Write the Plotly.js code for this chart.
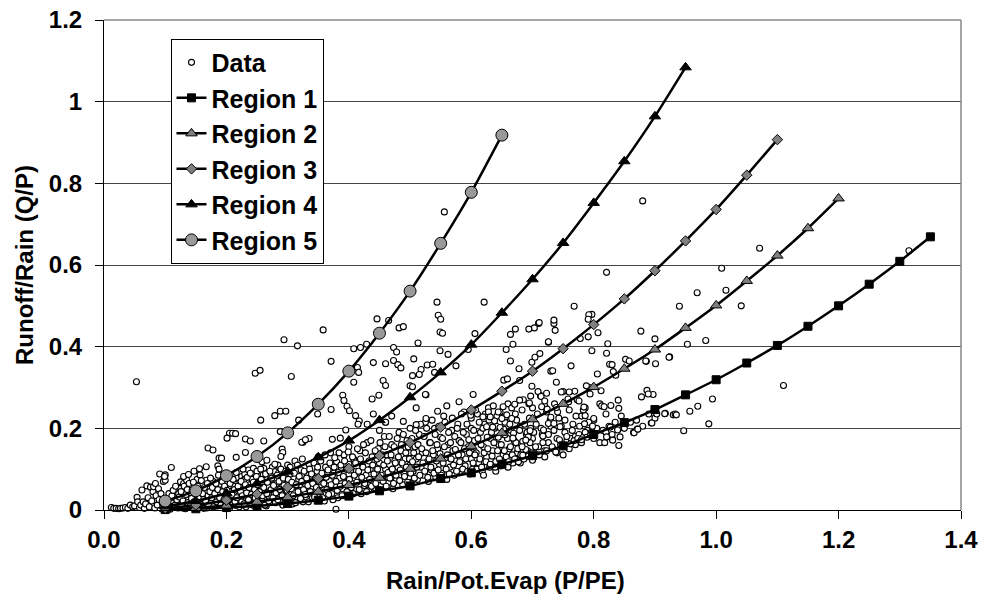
<!DOCTYPE html>
<html>
<head>
<meta charset="utf-8">
<script src="https://cdn.plot.ly/plotly-3.0.1.min.js"></script>
<style>html,body{margin:0;padding:0;background:#fff;}#chart{width:981px;height:606px;}</style>
</head>
<body>
<div id="chart"></div>
<script>
// Region curves (x = P/PE, y = Q/P)
const r1X = [0.1,0.15,0.2,0.25,0.3,0.35,0.4,0.45,0.5,0.55,0.6,0.65,0.7,0.75,0.8,0.85,0.9,0.95,1.0,1.05,1.1,1.15,1.2,1.25,1.3,1.35];
const r1Y = [0.001,0.003,0.006,0.010,0.016,0.024,0.034,0.047,0.059,0.077,0.091,0.112,0.133,0.157,0.185,0.214,0.246,0.282,0.319,0.360,0.403,0.450,0.500,0.553,0.609,0.669];
const r2X = [0.1,0.15,0.2,0.25,0.3,0.35,0.4,0.45,0.5,0.55,0.6,0.65,0.7,0.75,0.8,0.85,0.9,0.95,1.0,1.05,1.1,1.15,1.2];
const r2Y = [0.002,0.005,0.011,0.020,0.031,0.045,0.061,0.079,0.101,0.126,0.156,0.189,0.222,0.260,0.301,0.346,0.393,0.446,0.501,0.561,0.623,0.690,0.763];
const r3X = [0.1,0.15,0.2,0.25,0.3,0.35,0.4,0.45,0.5,0.55,0.6,0.65,0.7,0.75,0.8,0.85,0.9,0.95,1.0,1.05,1.1];
const r3Y = [0.004,0.012,0.024,0.039,0.056,0.077,0.102,0.133,0.165,0.203,0.245,0.291,0.340,0.395,0.454,0.517,0.586,0.659,0.736,0.820,0.907];
const r4X = [0.1,0.15,0.2,0.25,0.3,0.35,0.4,0.45,0.5,0.55,0.6,0.65,0.7,0.75,0.8,0.85,0.9,0.95];
const r4Y = [0.009,0.022,0.041,0.065,0.094,0.129,0.170,0.220,0.276,0.337,0.405,0.483,0.565,0.654,0.752,0.854,0.964,1.084];
const r5X = [0.1,0.15,0.2,0.25,0.3,0.35,0.4,0.45,0.5,0.55,0.6,0.65];
const r5Y = [0.022,0.047,0.084,0.131,0.189,0.259,0.340,0.433,0.536,0.653,0.778,0.918];

const dataNearZero = [[0.012,0.006],[0.016,0.004],[0.02,0.004],[0.024,0.003],[0.027,0.004],[0.031,0.005],[0.035,0.006],[0.039,0.004],[0.043,0.012],[0.047,0.008],[0.05,0.01],[0.054,0.031],[0.055,0.02],[0.058,0.006],[0.06,0.012],[0.062,0.049],[0.064,0.02],[0.066,0.004],[0.068,0.015],[0.07,0.059],[0.072,0.03],[0.074,0.008],[0.076,0.056],[0.078,0.022],[0.08,0.045],[0.081,0.057],[0.083,0.005],[0.084,0.065],[0.085,0.035],[0.087,0.012],[0.089,0.052],[0.09,0.025],[0.091,0.088],[0.093,0.04],[0.095,0.018],[0.097,0.07],[0.099,0.082],[0.1,0.073],[0.1,0.086],[0.1,0.006],[0.379,0.002]];
const dataBandA = [[0.105,0.004],[0.11,0.012],[0.112,0.022],[0.115,0.03],[0.118,0.008],[0.12,0.018],[0.122,0.04],[0.125,0.026],[0.125,0.053],[0.125,0.069],[0.128,0.005],[0.13,0.034],[0.13,0.065],[0.132,0.048],[0.135,0.015],[0.135,0.073],[0.138,0.025],[0.14,0.042],[0.142,0.058],[0.145,0.008],[0.148,0.03],[0.15,0.02],[0.152,0.048],[0.152,0.075],[0.155,0.038],[0.157,0.086],[0.158,0.012],[0.16,0.062],[0.162,0.026],[0.165,0.045],[0.167,0.073],[0.168,0.005],[0.17,0.035],[0.172,0.055],[0.175,0.018],[0.178,0.07],[0.18,0.028],[0.182,0.045],[0.185,0.01],[0.186,0.108],[0.188,0.06],[0.188,0.1],[0.19,0.038],[0.192,0.022],[0.195,0.052],[0.198,0.075],[0.2,0.015],[0.2,0.033],[0.2,0.065]];
const dataBandB = [[0.205,0.005],[0.207,0.045],[0.21,0.025],[0.212,0.058],[0.215,0.012],[0.218,0.078],[0.22,0.035],[0.222,0.068],[0.225,0.02],[0.225,0.082],[0.228,0.05],[0.228,0.073],[0.23,0.088],[0.232,0.008],[0.235,0.04],[0.236,0.098],[0.238,0.062],[0.24,0.028],[0.242,0.075],[0.244,0.102],[0.245,0.015],[0.248,0.05],[0.25,0.095],[0.252,0.035],[0.255,0.065],[0.258,0.022],[0.258,0.118],[0.26,0.085],[0.261,0.102],[0.262,0.045],[0.265,0.01],[0.266,0.122],[0.268,0.058],[0.27,0.03],[0.272,0.075],[0.275,0.105],[0.278,0.042],[0.279,0.094],[0.28,0.018],[0.282,0.065],[0.284,0.11],[0.285,0.09],[0.288,0.035],[0.29,0.055],[0.292,0.012],[0.295,0.08],[0.298,0.045],[0.3,0.025],[0.3,0.068],[0.3,0.11]];
const dataBandC = [[0.302,0.04],[0.305,0.088],[0.308,0.015],[0.31,0.058],[0.312,0.12],[0.315,0.032],[0.318,0.075],[0.32,0.048],[0.322,0.098],[0.325,0.02],[0.328,0.065],[0.33,0.038],[0.332,0.085],[0.335,0.112],[0.338,0.055],[0.34,0.028],[0.342,0.072],[0.345,0.045],[0.348,0.095],[0.35,0.13],[0.352,0.035],[0.355,0.062],[0.358,0.082],[0.36,0.022],[0.362,0.105],[0.365,0.05],[0.368,0.072],[0.37,0.14],[0.372,0.04],[0.375,0.09],[0.378,0.06],[0.38,0.118],[0.382,0.03],[0.385,0.078],[0.388,0.1],[0.39,0.052],[0.392,0.135],[0.395,0.068],[0.398,0.042],[0.4,0.088],[0.4,0.112],[0.4,0.155]];
const dataBandD = [[0.402,0.035],[0.405,0.065],[0.408,0.125],[0.41,0.05],[0.412,0.095],[0.415,0.078],[0.418,0.145],[0.42,0.04],[0.422,0.11],[0.425,0.06],[0.428,0.085],[0.43,0.165],[0.43,0.21],[0.432,0.048],[0.435,0.1],[0.438,0.13],[0.44,0.07],[0.44,0.235],[0.442,0.055],[0.445,0.09],[0.448,0.15],[0.45,0.115],[0.45,0.195],[0.452,0.06],[0.455,0.078],[0.458,0.18],[0.46,0.1],[0.46,0.215],[0.462,0.135],[0.465,0.068],[0.468,0.088],[0.47,0.16],[0.47,0.23],[0.472,0.052],[0.475,0.12],[0.478,0.075],[0.48,0.105],[0.482,0.19],[0.485,0.145],[0.488,0.062],[0.489,0.217],[0.49,0.09],[0.492,0.125],[0.495,0.17],[0.498,0.08],[0.5,0.11],[0.5,0.2],[0.5,0.14]];
const dataBandE = [[0.502,0.065],[0.505,0.095],[0.508,0.155],[0.51,0.125],[0.51,0.25],[0.512,0.075],[0.515,0.185],[0.518,0.105],[0.52,0.14],[0.522,0.085],[0.525,0.215],[0.528,0.118],[0.53,0.07],[0.532,0.165],[0.535,0.098],[0.538,0.135],[0.54,0.2],[0.542,0.08],[0.545,0.15],[0.548,0.112],[0.55,0.178],[0.552,0.09],[0.555,0.23],[0.558,0.128],[0.56,0.075],[0.56,0.255],[0.562,0.16],[0.565,0.105],[0.568,0.195],[0.57,0.145],[0.572,0.085],[0.575,0.12],[0.578,0.21],[0.58,0.17],[0.58,0.265],[0.582,0.095],[0.585,0.135],[0.588,0.24],[0.59,0.108],[0.592,0.185],[0.595,0.155],[0.598,0.088],[0.6,0.125],[0.6,0.2],[0.6,0.225]];
const dataBandF = [[0.602,0.1],[0.605,0.17],[0.608,0.14],[0.61,0.235],[0.612,0.115],[0.615,0.19],[0.618,0.095],[0.62,0.155],[0.62,0.085],[0.622,0.21],[0.625,0.13],[0.628,0.25],[0.63,0.105],[0.632,0.175],[0.635,0.145],[0.638,0.2],[0.64,0.118],[0.64,0.095],[0.642,0.23],[0.645,0.16],[0.648,0.108],[0.65,0.185],[0.652,0.135],[0.655,0.215],[0.658,0.12],[0.66,0.26],[0.66,0.105],[0.662,0.15],[0.665,0.195],[0.668,0.115],[0.67,0.17],[0.672,0.235],[0.675,0.14],[0.678,0.125],[0.68,0.205],[0.68,0.115],[0.682,0.16],[0.685,0.27],[0.688,0.13],[0.69,0.185],[0.692,0.145],[0.695,0.225],[0.698,0.135],[0.7,0.175],[0.7,0.25],[0.7,0.122]];
const dataBandG = [[0.703,0.14],[0.706,0.21],[0.71,0.155],[0.713,0.28],[0.716,0.185],[0.72,0.145],[0.72,0.13],[0.723,0.24],[0.726,0.165],[0.73,0.205],[0.733,0.15],[0.736,0.26],[0.74,0.175],[0.74,0.14],[0.743,0.225],[0.746,0.16],[0.75,0.29],[0.75,0.135],[0.753,0.19],[0.756,0.168],[0.76,0.245],[0.76,0.15],[0.763,0.175],[0.766,0.21],[0.77,0.18],[0.77,0.16],[0.773,0.27],[0.776,0.185],[0.78,0.23],[0.78,0.165],[0.783,0.178],[0.786,0.25],[0.79,0.195],[0.79,0.18],[0.793,0.3],[0.796,0.19],[0.8,0.22],[0.8,0.175]];
const dataBandH = [[0.805,0.2],[0.81,0.26],[0.81,0.165],[0.815,0.195],[0.82,0.235],[0.82,0.19],[0.825,0.205],[0.83,0.175],[0.83,0.185],[0.835,0.215],[0.84,0.198],[0.84,0.2],[0.845,0.23],[0.85,0.2],[0.86,0.215],[0.865,0.19],[0.87,0.22],[0.88,0.205],[0.89,0.235],[0.9,0.225]];
const dataDense1 = [[0.101,0.028],[0.103,0.015],[0.106,0.040],[0.108,0.002],[0.111,0.035],[0.113,0.048],[0.116,0.012],[0.117,0.058],[0.119,0.025],[0.121,0.005],[0.123,0.032],[0.126,0.045],[0.127,0.012],[0.129,0.022],[0.131,0.058],[0.133,0.003],[0.134,0.038],[0.136,0.05],[0.137,0.018],[0.139,0.065],[0.141,0.01],[0.143,0.028],[0.144,0.048],[0.146,0.068],[0.147,0.02],[0.149,0.04],[0.151,0.006],[0.153,0.058],[0.154,0.03],[0.156,0.015],[0.157,0.045],[0.159,0.072],[0.161,0.04],[0.163,0.004],[0.164,0.055],[0.166,0.022],[0.169,0.065],[0.171,0.012],[0.173,0.045],[0.174,0.078],[0.176,0.03],[0.177,0.055],[0.179,0.008],[0.181,0.04],[0.183,0.065],[0.184,0.02],[0.186,0.05],[0.187,0.085],[0.189,0.03],[0.191,0.012],[0.193,0.07],[0.194,0.045],[0.196,0.025],[0.197,0.058],[0.199,0.004]];
const dataDense2 = [[0.201,0.048],[0.203,0.085],[0.204,0.025],[0.206,0.065],[0.208,0.012],[0.209,0.038],[0.211,0.075],[0.213,0.05],[0.214,0.02],[0.216,0.092],[0.217,0.03],[0.219,0.058],[0.221,0.008],[0.223,0.045],[0.224,0.07],[0.226,0.035],[0.227,0.1],[0.229,0.015],[0.231,0.062],[0.233,0.042],[0.234,0.08],[0.236,0.025],[0.237,0.055],[0.239,0.09],[0.241,0.038],[0.243,0.012],[0.244,0.068],[0.246,0.05],[0.247,0.03],[0.249,0.082],[0.251,0.062],[0.253,0.018],[0.254,0.045],[0.256,0.1],[0.257,0.075],[0.259,0.035],[0.261,0.055],[0.263,0.012],[0.264,0.088],[0.266,0.04],[0.267,0.068],[0.269,0.022],[0.271,0.095],[0.273,0.05],[0.274,0.078],[0.276,0.03],[0.277,0.06],[0.279,0.112],[0.281,0.042],[0.283,0.085],[0.284,0.025],[0.286,0.07],[0.287,0.05],[0.289,0.1],[0.291,0.035],[0.293,0.078],[0.294,0.06],[0.296,0.02],[0.297,0.095],[0.299,0.048]];
const dataDense3 = [[0.301,0.075],[0.303,0.028],[0.304,0.105],[0.306,0.052],[0.307,0.068],[0.309,0.035],[0.311,0.09],[0.313,0.018],[0.314,0.062],[0.316,0.11],[0.317,0.045],[0.319,0.082],[0.321,0.028],[0.323,0.07],[0.324,0.125],[0.326,0.05],[0.327,0.095],[0.329,0.038],[0.331,0.078],[0.333,0.06],[0.334,0.02],[0.336,0.1],[0.337,0.045],[0.339,0.088],[0.341,0.065],[0.343,0.115],[0.344,0.032],[0.346,0.078],[0.347,0.055],[0.349,0.105],[0.351,0.07],[0.353,0.045],[0.354,0.12],[0.356,0.09],[0.357,0.03],[0.359,0.065],[0.361,0.135],[0.363,0.08],[0.364,0.05],[0.366,0.098],[0.367,0.038],[0.369,0.115],[0.371,0.062],[0.373,0.085],[0.374,0.025],[0.376,0.105],[0.377,0.128],[0.379,0.07],[0.381,0.048],[0.383,0.092],[0.384,0.14],[0.386,0.058],[0.387,0.11],[0.389,0.035],[0.391,0.082],[0.393,0.12],[0.394,0.065],[0.396,0.1],[0.397,0.045],[0.399,0.142]];
const dataDense4 = [[0.401,0.075],[0.403,0.098],[0.404,0.055],[0.406,0.13],[0.407,0.04],[0.409,0.085],[0.411,0.115],[0.413,0.068],[0.414,0.15],[0.416,0.095],[0.417,0.05],[0.419,0.125],[0.421,0.08],[0.423,0.105],[0.424,0.16],[0.426,0.065],[0.427,0.14],[0.429,0.045],[0.431,0.098],[0.433,0.12],[0.434,0.075],[0.436,0.17],[0.437,0.058],[0.439,0.11],[0.441,0.088],[0.443,0.145],[0.444,0.065],[0.446,0.125],[0.447,0.1],[0.449,0.05],[0.451,0.165],[0.453,0.085],[0.454,0.135],[0.456,0.07],[0.457,0.11],[0.459,0.155],[0.461,0.058],[0.463,0.12],[0.464,0.092],[0.466,0.18],[0.467,0.078],[0.469,0.135],[0.471,0.1],[0.473,0.065],[0.474,0.155],[0.476,0.115],[0.477,0.085],[0.479,0.175],[0.481,0.13],[0.483,0.072],[0.484,0.098],[0.486,0.16],[0.487,0.115],[0.489,0.185],[0.491,0.082],[0.493,0.14],[0.494,0.105],[0.496,0.068],[0.497,0.155],[0.499,0.125]];
const dataDense5 = [[0.501,0.09],[0.503,0.175],[0.504,0.118],[0.506,0.14],[0.507,0.078],[0.509,0.195],[0.511,0.105],[0.513,0.16],[0.514,0.13],[0.516,0.085],[0.517,0.21],[0.519,0.15],[0.521,0.115],[0.523,0.18],[0.524,0.095],[0.526,0.14],[0.527,0.2],[0.529,0.08],[0.531,0.125],[0.533,0.165],[0.534,0.105],[0.536,0.22],[0.537,0.145],[0.539,0.09],[0.541,0.185],[0.543,0.12],[0.544,0.16],[0.546,0.098],[0.547,0.205],[0.549,0.138],[0.551,0.085],[0.553,0.175],[0.554,0.115],[0.556,0.155],[0.557,0.215],[0.559,0.1],[0.561,0.135],[0.563,0.19],[0.564,0.088],[0.566,0.165],[0.567,0.125],[0.569,0.225],[0.571,0.11],[0.573,0.18],[0.574,0.148],[0.576,0.095],[0.577,0.2],[0.579,0.135],[0.581,0.118],[0.583,0.165],[0.584,0.235],[0.586,0.1],[0.587,0.19],[0.589,0.15],[0.591,0.125],[0.593,0.21],[0.594,0.095],[0.596,0.172],[0.597,0.14],[0.599,0.232]];
const dataDense6 = [[0.601,0.155],[0.603,0.115],[0.604,0.195],[0.606,0.135],[0.607,0.245],[0.609,0.1],[0.611,0.175],[0.613,0.215],[0.614,0.125],[0.616,0.16],[0.617,0.105],[0.619,0.2],[0.621,0.14],[0.623,0.235],[0.624,0.118],[0.626,0.178],[0.627,0.15],[0.629,0.22],[0.631,0.112],[0.633,0.19],[0.634,0.132],[0.636,0.255],[0.637,0.165],[0.639,0.105],[0.641,0.205],[0.643,0.145],[0.644,0.178],[0.646,0.125],[0.647,0.24],[0.649,0.16],[0.651,0.112],[0.653,0.198],[0.654,0.145],[0.656,0.228],[0.657,0.13],[0.659,0.175],[0.661,0.118],[0.663,0.21],[0.664,0.155],[0.666,0.25],[0.667,0.135],[0.669,0.188],[0.671,0.125],[0.673,0.165],[0.674,0.22],[0.676,0.15],[0.677,0.118],[0.679,0.195],[0.681,0.135],[0.683,0.245],[0.684,0.168],[0.686,0.125],[0.687,0.21],[0.689,0.148],[0.691,0.19],[0.693,0.132],[0.694,0.26],[0.696,0.165],[0.697,0.2],[0.699,0.14]];
const dataDense7 = [[0.702,0.19],[0.705,0.155],[0.708,0.235],[0.711,0.135],[0.714,0.2],[0.717,0.165],[0.72,0.255],[0.723,0.145],[0.726,0.185],[0.729,0.22],[0.732,0.155],[0.735,0.195],[0.738,0.142],[0.741,0.24],[0.744,0.172],[0.747,0.205],[0.75,0.155],[0.753,0.22],[0.756,0.18],[0.759,0.265],[0.762,0.162],[0.765,0.195],[0.768,0.17],[0.771,0.23],[0.774,0.175],[0.777,0.205],[0.78,0.172],[0.783,0.245],[0.786,0.19],[0.789,0.178],[0.792,0.215],[0.795,0.183],[0.798,0.205]];
const dataScatterLeft = [[0.053,0.314],[0.294,0.417],[0.316,0.402],[0.358,0.441],[0.247,0.335],[0.255,0.342],[0.306,0.327],[0.371,0.364],[0.408,0.395],[0.419,0.398],[0.429,0.406],[0.446,0.468],[0.465,0.464],[0.556,0.730],[0.544,0.509],[0.546,0.477],[0.550,0.467],[0.549,0.436],[0.553,0.433],[0.549,0.390],[0.562,0.381],[0.575,0.353],[0.482,0.446],[0.489,0.449],[0.513,0.409],[0.473,0.398],[0.478,0.387],[0.440,0.361],[0.460,0.358],[0.473,0.366],[0.480,0.356],[0.485,0.348],[0.506,0.370],[0.518,0.344],[0.528,0.355],[0.537,0.357],[0.504,0.329],[0.515,0.332],[0.540,0.337],[0.414,0.349],[0.416,0.337],[0.408,0.313],[0.456,0.317],[0.460,0.305],[0.500,0.304],[0.504,0.302],[0.621,0.509],[0.606,0.432],[0.595,0.393],[0.526,0.282],[0.545,0.242],[0.526,0.224],[0.510,0.209],[0.438,0.272],[0.449,0.281],[0.390,0.281],[0.392,0.268],[0.397,0.254],[0.401,0.243],[0.411,0.231],[0.417,0.218],[0.415,0.210],[0.371,0.246],[0.349,0.235],[0.318,0.220],[0.288,0.242],[0.297,0.242],[0.279,0.231],[0.256,0.220],[0.288,0.192],[0.325,0.166],[0.335,0.175],[0.373,0.173],[0.386,0.176],[0.395,0.196],[0.205,0.188],[0.210,0.188],[0.215,0.187],[0.201,0.176],[0.231,0.174],[0.239,0.169],[0.261,0.169],[0.170,0.152],[0.178,0.147],[0.188,0.127],[0.192,0.127],[0.216,0.129],[0.231,0.141],[0.291,0.149],[0.292,0.141],[0.289,0.131],[0.110,0.104],[0.099,0.082],[0.130,0.082],[0.138,0.087],[0.147,0.095],[0.156,0.101],[0.167,0.106],[0.525,0.283],[0.460,0.215],[0.603,0.283],[0.323,0.166],[0.329,0.172]];
const dataScatterRight = [[1.110,0.305],[0.947,0.194],[0.988,0.211],[0.994,0.272],[0.970,0.254],[0.957,0.242],[0.930,0.233],[0.933,0.235],[0.917,0.237],[0.894,0.213],[0.871,0.198],[1.071,0.641],[1.009,0.592],[1.016,0.538],[0.969,0.532],[0.940,0.499],[1.041,0.500],[0.983,0.415],[0.953,0.406],[0.924,0.375],[0.900,0.419],[0.901,0.358],[0.877,0.438],[0.886,0.364],[0.878,0.277],[0.887,0.293],[0.897,0.283],[0.889,0.284],[0.821,0.582],[0.768,0.499],[0.880,0.757],[1.315,0.635],[0.916,0.236],[0.903,0.235],[0.935,0.233],[0.895,0.213],[0.797,0.479],[0.807,0.434],[0.923,0.374],[0.885,0.365],[0.852,0.369],[0.858,0.365],[0.823,0.407],[0.821,0.384],[0.826,0.357],[0.830,0.356],[0.836,0.330],[0.832,0.339],[0.797,0.390],[0.806,0.333],[0.812,0.292],[0.813,0.255],[0.817,0.253],[0.828,0.256],[0.840,0.269],[0.841,0.249],[0.841,0.158],[0.866,0.189],[0.872,0.198],[0.831,0.171],[0.843,0.179],[0.839,0.196],[0.818,0.165],[0.821,0.179],[0.827,0.203],[0.800,0.224],[0.785,0.211],[0.786,0.231],[0.784,0.252],[0.776,0.267],[0.788,0.304],[0.794,0.284],[0.769,0.291],[0.758,0.272],[0.760,0.289],[0.747,0.289],[0.763,0.353],[0.739,0.313],[0.730,0.340],[0.726,0.411],[0.737,0.440],[0.735,0.457],[0.710,0.457],[0.703,0.446],[0.694,0.443],[0.672,0.443],[0.664,0.430],[0.668,0.406],[0.657,0.393],[0.664,0.365],[0.678,0.346],[0.699,0.362],[0.704,0.374],[0.712,0.383],[0.778,0.420],[0.791,0.424],[0.653,0.318],[0.659,0.321],[0.679,0.317],[0.699,0.303],[0.709,0.290],[0.723,0.286],[0.714,0.278],[0.720,0.267],[0.715,0.253],[0.697,0.279],[0.695,0.262],[0.679,0.269],[0.671,0.259],[0.652,0.253],[0.644,0.240],[0.628,0.240],[0.619,0.228],[0.724,0.247],[0.739,0.251],[0.730,0.227],[0.726,0.212],[0.735,0.212],[0.745,0.204],[0.717,0.181],[0.718,0.196],[0.696,0.194],[0.693,0.179],[0.689,0.171],[0.683,0.155],[0.684,0.134],[0.668,0.176],[0.655,0.184],[0.647,0.202],[0.635,0.203],[0.625,0.204],[0.638,0.218],[0.631,0.228],[0.650,0.224],[0.658,0.233],[0.666,0.224],[0.792,0.478],[0.791,0.467],[0.711,0.459],[0.735,0.465],[0.726,0.412],[0.733,0.341]];

const allData = [].concat(dataNearZero, dataBandA, dataBandB, dataBandC, dataBandD, dataBandE, dataBandF, dataBandG, dataBandH,
  dataDense1, dataDense2, dataDense3, dataDense4, dataDense5, dataDense6, dataDense7, dataScatterLeft, dataScatterRight);
const dataX = allData.map(p => p[0]);
const dataY = allData.map(p => p[1]);

const FONT = 'Liberation Sans, Arial, Helvetica, sans-serif';
const boldFont = {family: FONT, size: 24, color: '#000', weight: 'bold'};
const legendFont = {family: FONT, size: 25, color: '#000', weight: 'bold'};
const lineStyle = {color: '#000', width: 2.5, shape: 'spline', smoothing: 0.6};

const traces = [
  {x: dataX, y: dataY, name: 'Data', mode: 'markers', type: 'scatter', cliponaxis: false, legendgroup: 'a',
   marker: {symbol: 'circle', size: 6, color: '#fff', line: {color: '#000', width: 1.1}}},
  {x: r1X, y: r1Y, name: 'Region 1', mode: 'lines+markers', type: 'scatter', cliponaxis: false, legendgroup: 'b', line: lineStyle,
   marker: {symbol: 'square', size: 8, color: '#000', line: {color: '#000', width: 1}}},
  {x: r2X, y: r2Y, name: 'Region 2', mode: 'lines+markers', type: 'scatter', cliponaxis: false, legendgroup: 'c', line: lineStyle,
   marker: {symbol: 'triangle-up', size: 10, color: '#808080', line: {color: '#000', width: 1}}},
  {x: r3X, y: r3Y, name: 'Region 3', mode: 'lines+markers', type: 'scatter', cliponaxis: false, legendgroup: 'd', line: lineStyle,
   marker: {symbol: 'diamond', size: 8, color: '#808080', line: {color: '#000', width: 1}}},
  {x: r4X, y: r4Y, name: 'Region 4', mode: 'lines+markers', type: 'scatter', cliponaxis: false, legendgroup: 'e', line: lineStyle,
   marker: {symbol: 'triangle-up', size: 10, color: '#000', line: {color: '#000', width: 1}}},
  {x: r5X, y: r5Y, name: 'Region 5', mode: 'lines+markers', type: 'scatter', cliponaxis: false, legendgroup: 'f', line: lineStyle,
   marker: {symbol: 'circle', size: 12, color: '#999', line: {color: '#000', width: 1}}}
];

const layout = {
  width: 981, height: 606,
  margin: {l: 104, r: 20, t: 20, b: 96, pad: 0},
  paper_bgcolor: '#fff', plot_bgcolor: '#fff',
  font: boldFont,
  showlegend: true,
  legend: {x: 0.0776, y: 0.962, xanchor: 'left', yanchor: 'top', bgcolor: '#fff', bordercolor: '#000', borderwidth: 1,
           font: legendFont, traceorder: 'grouped', tracegroupgap: 0},
  xaxis: {range: [0, 1.4], dtick: 0.2, tick0: 0, tickformat: '.1f', ticks: 'outside', ticklen: 8, tickwidth: 1, tickcolor: '#000',
          showline: true, linecolor: '#000', linewidth: 1, showgrid: false, zeroline: false,
          tickfont: boldFont},
  yaxis: {range: [0, 1.2], dtick: 0.2, tick0: 0, ticks: 'outside', ticklen: 8, tickwidth: 1, tickcolor: '#000',
          ticklabelstandoff: 8,
          showline: true, linecolor: '#000', linewidth: 1, showgrid: true, gridcolor: '#444', gridwidth: 1, zeroline: false,
          tickfont: boldFont,
          title: {text: 'Runoff/Rain (Q/P)', font: boldFont, standoff: 8}},
  annotations: [
    {text: 'Rain/Pot.Evap (P/PE)', xref: 'paper', yref: 'paper', x: 0.468, y: -0.143, xanchor: 'center', yanchor: 'middle',
     showarrow: false, font: boldFont}
  ],
  shapes: [
    {type: 'line', xref: 'paper', yref: 'paper', x0: 0, x1: 1, y0: 1, y1: 1, line: {color: '#888', width: 1.5}},
    {type: 'line', xref: 'paper', yref: 'paper', x0: 1, x1: 1, y0: 0, y1: 1, line: {color: '#888', width: 1.5}}
  ]
};

Plotly.newPlot('chart', traces, layout, {displayModeBar: false, staticPlot: true});
</script>
</body>
</html>
